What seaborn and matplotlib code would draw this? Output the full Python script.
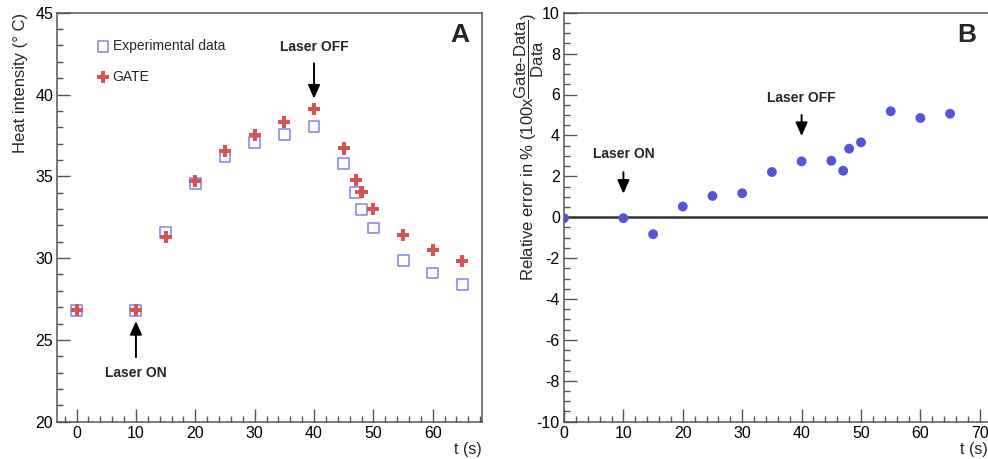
import matplotlib
matplotlib.use("Agg")
import matplotlib.pyplot as plt
import seaborn as sns
import numpy as np
import pandas as pd
from matplotlib.ticker import MultipleLocator

# ---------------- data ----------------
t_s = [0, 10, 15, 20, 25, 30, 35, 40, 45, 47, 48, 50, 55, 60, 65]
exp_data = [26.82, 26.82, 31.54, 34.54, 36.19, 37.09, 37.56, 38.05, 35.76, 34.02, 32.96, 31.84, 29.86, 29.09, 28.41]
gate_data = [26.82, 26.82, 31.27, 34.70, 36.53, 37.50, 38.33, 39.11, 36.70, 34.78, 34.07, 33.00, 31.41, 30.49, 29.84]
rel_err = [-0.05, -0.05, -0.83, 0.52, 1.04, 1.17, 2.21, 2.73, 2.76, 2.27, 3.35, 3.66, 5.18, 4.85, 5.06]

legend_labels = ["Experimental data", "GATE"]
xlabel = "t (s)"
ylabel_a = "Heat intensity (° C)"
ylabel_b = r"Relative error in % (100x$\dfrac{\text{Gate-Data}}{\text{Data}}$)"

df = pd.DataFrame({"t": t_s, "exp": exp_data, "gate": gate_data, "err": rel_err})

# ---------------- style ----------------
sns.set_style("ticks")
plt.rcParams["font.family"] = ["Liberation Sans", "DejaVu Sans"]
plt.rcParams["mathtext.fontset"] = "custom"
plt.rcParams["mathtext.rm"] = "Liberation Sans"
plt.rcParams["mathtext.it"] = "Liberation Sans:italic"
plt.rcParams["mathtext.bf"] = "Liberation Sans:bold"
plt.rcParams["mathtext.sf"] = "Liberation Sans"
plt.rcParams["axes.unicode_minus"] = False

SPINE = "#555555"
SQ_COL = "#8282e6"
PLUS_COL = "#d65454"
DOT_COL = "#5454dc"

fig = plt.figure(figsize=(9.88, 4.59), dpi=100)
W, H = 988, 459

def px_axes(l, t, r, b):
    return fig.add_axes([l / W, 1 - b / H, (r - l) / W, (b - t) / H])

axA = px_axes(57.3, 12.7, 481.7, 421.7)
axB = px_axes(564, 12.7, 988.7, 421.7)

def style_axis(ax):
    for side in ["left", "bottom", "top", "right"]:
        ax.spines[side].set_color(SPINE)
        ax.spines[side].set_linewidth(1.1)
    ax.tick_params(which="both", direction="in", color=SPINE, width=1.0,
                   top=False, right=False, labelsize=11.5, labelcolor="black")
    ax.tick_params(which="major", length=9.2, pad=3)
    ax.tick_params(which="minor", length=4.4)

# ---------------- Panel A ----------------
sns.scatterplot(data=df, x="t", y="exp", ax=axA, marker="s", s=62,
                facecolor="none", edgecolor=SQ_COL, linewidth=1.1,
                label=legend_labels[0], zorder=3)
sns.scatterplot(data=df, x="t", y="gate", ax=axA, marker="P", s=75,
                color=PLUS_COL, edgecolor="none", linewidth=0,
                label=legend_labels[1], zorder=4)
axA.set_xlim(-3.25, 68.25)
axA.set_ylim(20, 45)
axA.xaxis.set_major_locator(MultipleLocator(10))
axA.xaxis.set_minor_locator(MultipleLocator(2))
axA.yaxis.set_major_locator(MultipleLocator(5))
axA.yaxis.set_minor_locator(MultipleLocator(1))
style_axis(axA)

axA.set_xlabel(xlabel, fontsize=11.5, ha="right")
axA.xaxis.set_label_coords(1.0, -0.05)
axA.set_ylabel(ylabel_a, fontsize=12, ha="right", va="baseline")
axA.yaxis.set_label_coords(-0.075, 1.0)

leg = axA.legend(loc="upper left", bbox_to_anchor=(0.075, 0.95), frameon=False,
                 fontsize=10, handletextpad=0.1, labelspacing=1.25,
                 borderaxespad=0, handlelength=1.2)

arrow_kw = dict(arrowstyle="-|>,head_length=0.45,head_width=0.2", color="black",
                lw=1.4, shrinkA=0, shrinkB=0, mutation_scale=18)
axA.annotate("", xy=(40, 39.75), xytext=(40, 41.9), arrowprops=arrow_kw)
axA.text(40, 42.9, "Laser OFF", ha="center", va="center", fontsize=10, weight="bold")
axA.annotate("", xy=(10, 26.15), xytext=(10, 23.95), arrowprops=arrow_kw)
axA.text(10, 23.0, "Laser ON", ha="center", va="center", fontsize=10, weight="bold")
axA.text(0.948, 0.945, "A", transform=axA.transAxes, ha="center", va="center",
         fontsize=19, weight="bold")

# ---------------- Panel B ----------------
sns.scatterplot(data=df, x="t", y="err", ax=axB, marker="o", s=50,
                color=DOT_COL, edgecolor="none", linewidth=0, zorder=4)
axB.axhline(0, color="#333333", lw=1.8, zorder=2)
axB.set_xlim(0, 71.5)
axB.set_ylim(-10, 10)
axB.xaxis.set_major_locator(MultipleLocator(10))
axB.xaxis.set_minor_locator(MultipleLocator(2))
axB.yaxis.set_major_locator(MultipleLocator(2))
axB.yaxis.set_minor_locator(MultipleLocator(0.5))
style_axis(axB)
axB.spines["right"].set_visible(False)

axB.set_xlabel(xlabel, fontsize=11.5, ha="right")
axB.xaxis.set_label_coords((988 - 564) / (988.7 - 564), -0.05)
axB.set_ylabel(ylabel_b, fontsize=12, ha="right", va="baseline")
axB.yaxis.set_label_coords(-0.07, 1.0)

axB.annotate("", xy=(10, 1.15), xytext=(10, 2.2), arrowprops=arrow_kw)
axB.text(10, 3.1, "Laser ON", ha="center", va="center", fontsize=10, weight="bold")
axB.annotate("", xy=(40, 3.97), xytext=(40, 5.0), arrowprops=arrow_kw)
axB.text(40, 5.83, "Laser OFF", ha="center", va="center", fontsize=10, weight="bold")
axB.text((967 - 564) / (988.7 - 564), 0.945, "B", transform=axB.transAxes,
         ha="center", va="center", fontsize=19, weight="bold")

fig.savefig("out.png", dpi=100)
